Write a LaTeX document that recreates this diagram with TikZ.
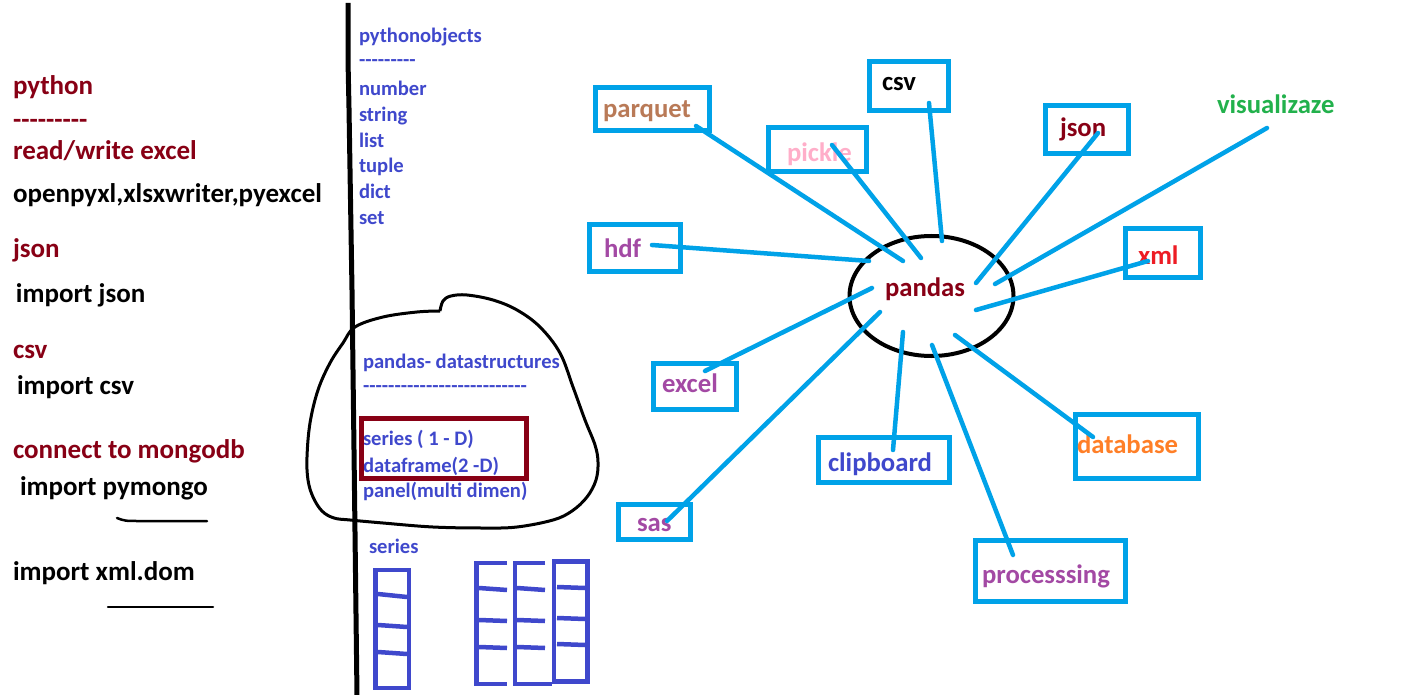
\documentclass[tikz,border=0pt]{standalone}
\usepackage{fontspec}
\setmainfont{Carlito}
\usetikzlibrary{shapes.geometric}
\definecolor{dred}{HTML}{880015}
\definecolor{indig}{HTML}{3F48CC}
\definecolor{turq}{HTML}{00A2E8}
\definecolor{rose}{HTML}{FFAEC9}
\definecolor{purp}{HTML}{A349A4}
\definecolor{orng}{HTML}{FF7F27}
\definecolor{grn}{HTML}{22B14C}
\definecolor{redc}{HTML}{ED1C24}
\definecolor{brwn}{HTML}{B97A57}
\newcommand\hyph[1]{\foreach\i in {1,...,#1}{-}}
\begin{document}
\begin{tikzpicture}[x=1pt,y=-1pt,
  lbl/.style={inner sep=0pt, outer sep=0pt, anchor=base west},
  big/.style={lbl, font=\fontsize{27}{32}\selectfont\bfseries},
  small/.style={lbl, font=\fontsize{20.6}{24}\selectfont\bfseries, text=indig},
  mid/.style={lbl, font=\fontsize{26.7}{32}\selectfont\bfseries},
  tbox/.style={draw=turq, line width=5pt, inner sep=0pt, outer sep=0pt, rectangle},
  spoke/.style={draw=turq, line width=4.5pt, line cap=round},
  bluepen/.style={draw=indig, line width=4.5pt},
]
\useasboundingbox (0,0) rectangle (1408,695);
\fill[white] (0,0) rectangle (1408,695);

% ---------- left column ----------
\node[big, text=dred] (t1) at (13,95) {python};
\node[big, text=dred] (t2) at (13,129) {\hyph{9}};
\node[big, text=dred] (t3) at (13,160) {read/write excel};
\node[big, text=black] (t4) at (13,203) {openpyxl,xlsxwriter,pyexcel};
\node[big, text=dred] (t5) at (13,258) {json};
\node[big, text=black] (t6) at (16,302) {import json};
\node[big, text=dred] (t7) at (13,358) {csv};
\node[big, text=black] (t8) at (17,394) {import csv};
\node[big, text=dred] (t9) at (13,458) {connect to mongodb};
\node[big, text=black] (t10) at (20,495) {import pymongo};
\node[big, text=black] (t11) at (13,580) {import xml.dom};
\draw[line width=2.5pt, line cap=round] (117,518) .. controls (125,521) .. (140,521) -- (207,521);
\draw[line width=2.5pt, line cap=round] (108,607) -- (213,607);

% ---------- divider ----------
\draw[line width=5pt] (348,3) -- (348,60) -- (349,108) -- (351,230) -- (352,290) -- (354,450) -- (357,696);

% ---------- python objects ----------
\node[small] (p1) at (359,43) {pythonobjects};
\node[small] (p2) at (359,67) {\hyph{9}};
\node[small] (p3) at (359,96) {number};
\node[small] (p4) at (359,122) {string};
\node[small] (p5) at (359,148) {list};
\node[small] (p6) at (359,173) {tuple};
\node[small] (p7) at (359,199) {dict};
\node[small] (p8) at (359,225) {set};

% ---------- blob ----------
\draw[line width=3pt, line join=round] plot[smooth, tension=0.6] coordinates {
 (440,311) (443,301) (451,296) (467,295) (493,300) (517,310) (540,327) (560,353)
 (573,387) (585,420) (595,445) (598,462) (596,480) (587,497) (572,511) (553,520)
 (517,527) (483,528) (433,527) (383,523) (350,520) (334,518) (322,511) (313,497)
 (308,480) (307,457) (310,423) (318,390) (330,363) (343,343) (355,327) (383,317)
 (417,312) (440,311)};
\node[small] (d1) at (363,368) {pandas- datastructures};
\node[small] (d2) at (363,392) {\hyph{26}};
\node[small] (d3) at (363,445) {series ( 1 - D)};
\node[small] (d4) at (363,472) {dataframe(2 -D)};
\node[small] (d5) at (363,497) {panel(multi dimen)};
\node[draw=dred, line width=5pt, inner sep=0pt, minimum width=164.5pt, minimum height=60pt] (hl) at (443.75,448.5) {};

% ---------- series / dataframe sketches ----------
\node[small] (s1) at (369,553) {series};
\draw[bluepen] (375.5,570) rectangle (409,688);
\draw[bluepen] (378,594) -- (407,597);
\draw[bluepen] (378,625) -- (407,627);
\draw[bluepen] (378,652) -- (407,654);

\draw[bluepen] (507,563) -- (476.5,563) -- (476.5,684) -- (507,684);
\draw[bluepen] (545,563) -- (515,563) -- (515,684) -- (552,684);
\draw[bluepen] (554,561.5) rectangle (587.5,681.5);
\foreach \a/\b in {588/590, 620/621, 647/648}{
  \draw[bluepen] (479,\a) -- (507,\b);
  \draw[bluepen] (517,\a) -- (545,\b);
}
\foreach \a/\b in {587/588, 618/619, 644/645}{
  \draw[bluepen] (557,\a) -- (585,\b);
}

% ---------- pandas hub ----------
\node[draw=black, line width=4pt, ellipse, inner sep=0pt, minimum width=164pt, minimum height=120pt] (hub) at (931.5,296) {};
\node[mid, text=dred] (pandas) at (885,296) {pandas};

% boxes
\node[tbox, minimum width=114pt, minimum height=43pt] (bparquet) at (652.5,109) {};
\node[tbox, minimum width=98pt, minimum height=44pt] (bpickle) at (817.5,149.5) {};
\node[tbox, minimum width=79pt, minimum height=49pt] (bcsv) at (909,86) {};
\node[tbox, minimum width=91pt, minimum height=47pt] (bhdf) at (635,248) {};
\node[tbox, minimum width=83pt, minimum height=48pt] (bjson) at (1087,129.5) {};
\node[tbox, minimum width=75pt, minimum height=49pt] (bxml) at (1163,253) {};
\node[tbox, minimum width=83pt, minimum height=46pt] (bexcel) at (695,386.5) {};
\node[tbox, minimum width=72pt, minimum height=35pt] (bsas) at (654.5,522) {};
\node[tbox, minimum width=131pt, minimum height=45pt] (bclip) at (884,460) {};
\node[tbox, minimum width=123pt, minimum height=64pt] (bdb) at (1137,446.5) {};
\node[tbox, minimum width=150pt, minimum height=61pt] (bproc) at (1050.5,571) {};

% labels
\node[mid, text=brwn] (lparquet) at (603,118) {parquet};
\node[mid, text=rose] (lpickle) at (787,162) {pickle};
\node[mid, text=black] (lcsv) at (882,91) {csv};
\node[mid, text=purp] (lhdf) at (604,258) {hdf};
\node[mid, text=dred] (ljson) at (1060,137) {json};
\node[mid, text=grn] (lvis) at (1217,114) {visualizaze};
\node[mid, text=redc] (lxml) at (1138,264) {xml};
\node[mid, text=purp] (lexcel) at (662,392) {excel};
\node[mid, text=purp] (lsas) at (637,531) {sas};
\node[mid, text=indig] (lclip) at (828,471) {clipboard};
\node[mid, text=orng] (ldb) at (1077,453) {database};
\node[mid, text=purp] (lproc) at (982,583) {processsing};

% spoke end points
\coordinate (e-parquet) at (696,126);   \coordinate (h-parquet) at (903,261);
\coordinate (e-pickle) at (832,145);    \coordinate (h-pickle) at (921,258);
\coordinate (e-csv) at (929,103);       \coordinate (h-csv) at (942,241);
\coordinate (e-hdf) at (652,245);       \coordinate (h-hdf) at (869,261);
\coordinate (e-json) at (1098,133);     \coordinate (h-json) at (976,283);
\coordinate (e-vis) at (1267,128);      \coordinate (h-vis) at (995,284);
\coordinate (e-xml) at (1148,261);      \coordinate (h-xml) at (976,310);
\coordinate (e-excel) at (705,371);     \coordinate (h-excel) at (872,288);
\coordinate (e-sas) at (667,521);       \coordinate (h-sas) at (880,312);
\coordinate (e-clip) at (893,450);      \coordinate (h-clip) at (903,332);
\coordinate (e-proc) at (1013,555);     \coordinate (h-proc) at (932,345);
\coordinate (e-db) at (1093,437);       \coordinate (h-db) at (955,335);

\foreach \n in {parquet,pickle,csv,hdf,json,vis,xml,excel,sas,clip,proc,db}{
  \draw[spoke] (e-\n) -- (h-\n);
}
\end{tikzpicture}
\end{document}
